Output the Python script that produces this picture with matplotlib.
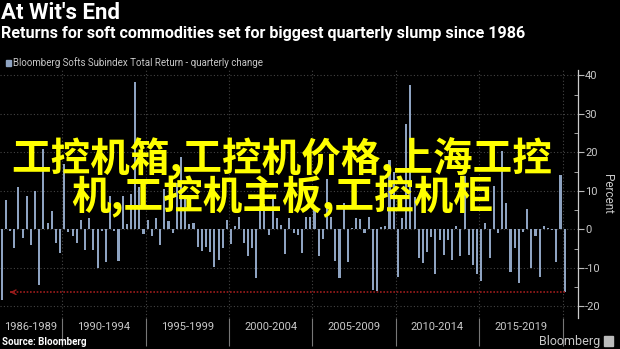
import numpy as np
import pandas as pd
import matplotlib
matplotlib.use("Agg")
import matplotlib.pyplot as plt
from matplotlib.patches import Rectangle

# Bloomberg Softs Subindex total return, quarterly change (%), 1986Q2 - 2020Q1
quarters = pd.period_range("1986Q2", "2020Q1", freq="Q")
changes = [
    -18.2, 7.6, -0.4, -4.9, 10.9, -2.3, 8.8, -4.1, 10.1, -14.3,
    20.8, 1.6, 4.9, -3.6, -6.0, 16.9, -0.6, -1.6, -3.4, 2.4,
    -5.4, 2.9, -5.4, -10.0, -0.5, -8.5, 8.7, -0.3, -8.3, 8.6,
    1.5, 9.3, 38.2, 11.0, -1.2, 2.4, -1.7, 2.9, -4.1, 10.5,
    2.2, -1.0, 12.0, 18.9, 9.0, 1.3, 1.6, -4.5, -5.5, -4.5,
    -5.8, -9.7, -8.0, -4.8, 2.4, -3.7, 0.9, 3.3, -3.6, -6.8,
    -4.9, -12.5, 6.0, 6.5, -1.4, 8.0, 3.0, 1.2, -6.5, 3.0,
    -1.0, -1.4, -6.0, 3.3, 3.3, 6.0, -6.8, -2.5, 13.2, 3.3,
    -8.2, -12.6, 6.9, -8.5, 0.3, 2.9, 2.7, -0.9, 3.3, -15.8,
    -15.9, 0.7, 1.0, 18.0, 15.0, -12.3, 3.0, 27.4, 37.5, 8.5,
    -7.3, -8.7, -5.8, -1.9, -11.6, -2.8, -6.7, -2.8, -8.0, 1.0,
    -6.8, 14.0, -6.7, -9.3, -11.6, -13.3, 1.6, -7.3, 11.3, -0.8,
    20.4, 6.9, -11.0, -4.7, -13.9, -0.6, 5.3, -9.9, -1.7, -12.3,
    0.9, 0.5, -0.2, -8.4, 14.1, -16.3,
]
period_labels = ["1986-1989", "1990-1994", "1995-1999", "2000-2004",
                 "2005-2009", "2010-2014", "2015-2019"]
period_starts = [1990, 1995, 2000, 2005, 2010, 2015, 2020]
y_ticks = [40, 30, 20, 10, 0, -10, -20]

overlay_lines = ["工控机箱,工控机价格,上海工控", "机,工控机主板,工控机柜"]

BAR = "#8ea3c1"
GRID = "#444444"
TXT = "#c8c8c8"
SANS = ["Roboto", "DejaVu Sans"]

fig = plt.figure(figsize=(6.2, 3.49), dpi=100, facecolor="black")
ax = fig.add_axes([0, 0.0888, 0.9323, 0.7106])
ax.set_facecolor("black")

x = np.arange(len(quarters))
ax.bar(x, changes, width=0.5, color=BAR, zorder=3)

# section boundaries between five-year blocks
years = np.array([q.year for q in quarters])
bounds = [np.argmax(years == y) - 0.5 for y in period_starts]
for b in bounds:
    ax.axvline(b, color=GRID, lw=0.8, ls=(0, (1, 2)), zorder=1)
for yv in y_ticks:
    ax.axhline(yv, color=GRID, lw=0.8, ls=(0, (1, 2)), zorder=1)

ax.set_xlim(-0.41, 138.2)
ax.set_ylim(-23, 41.4)

# long separator ticks below, block labels centred between them
edges = [-0.41] + bounds
centers = [(edges[i] + edges[i + 1]) / 2 for i in range(len(period_labels))]
ax.set_xticks(bounds)
ax.set_xticklabels([])
ax.set_xticks(centers, minor=True)
ax.set_xticklabels(period_labels, minor=True, fontsize=8, color=TXT, family=SANS)
ax.tick_params(axis="x", which="major", length=20, color="#777777", width=0.8)
ax.tick_params(axis="x", which="minor", length=0, pad=3)

ax.yaxis.tick_right()
ax.yaxis.set_label_position("right")
ax.set_yticks(y_ticks)
ax.set_yticklabels([str(v) for v in y_ticks], fontsize=8, color=TXT, family=SANS)
ax.set_yticks(np.arange(-20, 41, 5), minor=True)
ax.tick_params(axis="y", which="major", length=4, color="#bbbbbb", pad=1)
ax.tick_params(axis="y", which="minor", direction="in", length=3, color="#bbbbbb")
ax.set_ylabel("Percent", rotation=270, color=TXT, fontsize=8.5, labelpad=10, family=SANS)

for s in ["left", "top", "bottom"]:
    ax.spines[s].set_visible(False)
ax.spines["right"].set_color("#cccccc")
ax.spines["right"].set_linewidth(0.9)

# red dotted reference at the latest quarter's level
last = changes[-1]
ax.plot([2.0, x[-1]], [last, last], color="#9b1c1c", lw=1.2, ls=(0, (1, 1)), zorder=4)
ax.annotate("", xy=(2.0, last), xytext=(3.2, last),
            arrowprops=dict(arrowstyle="->", color="#9b1c1c", lw=1.0,
                            mutation_scale=8), zorder=4)

# headings
fig.text(0.002, 0.962, "At Wit's End", color="white", fontsize=16,
         fontweight="bold", family=SANS, va="center")
fig.text(0.002, 0.905, "Returns for soft commodities set for biggest quarterly slump since 1986",
         color="white", fontsize=11.6, fontweight="bold", family=SANS, va="center")
fig.patches.append(Rectangle((6 / 620, 1 - 66 / 349), 5 / 620, 6 / 349,
                             transform=fig.transFigure, color=BAR))
fig.text(13 / 620, 1 - 62.5 / 349, "Bloomberg Softs Subindex Total Return - quarterly change",
         color=TXT, fontsize=7, family=["Liberation Sans Narrow", "Roboto"], va="center")

fig.text(0.004, 1 - 342 / 349, "Source: Bloomberg", color="white", fontsize=7,
         fontweight="bold", family=SANS, va="center")
fig.text(600 / 620, 1 - 341 / 349, "Bloomberg", color=TXT, fontsize=9,
         family=SANS, va="center", ha="right")
fig.patches.append(Rectangle((604 / 620, 1 - 346 / 349), 9 / 620, 10 / 349,
                             transform=fig.transFigure, color="#bbbbbb"))

# yellow overlay text
for i, line in enumerate(overlay_lines):
    fig.text(282 / 620, 1 - (158 + 39 * i) / 349, line, color="#ffff00",
             fontsize=28.5, fontweight="bold", ha="center", va="center",
             family=["Noto Sans CJK SC", "DejaVu Sans"], zorder=10)

fig.savefig("out.png", dpi=100, facecolor="black")
